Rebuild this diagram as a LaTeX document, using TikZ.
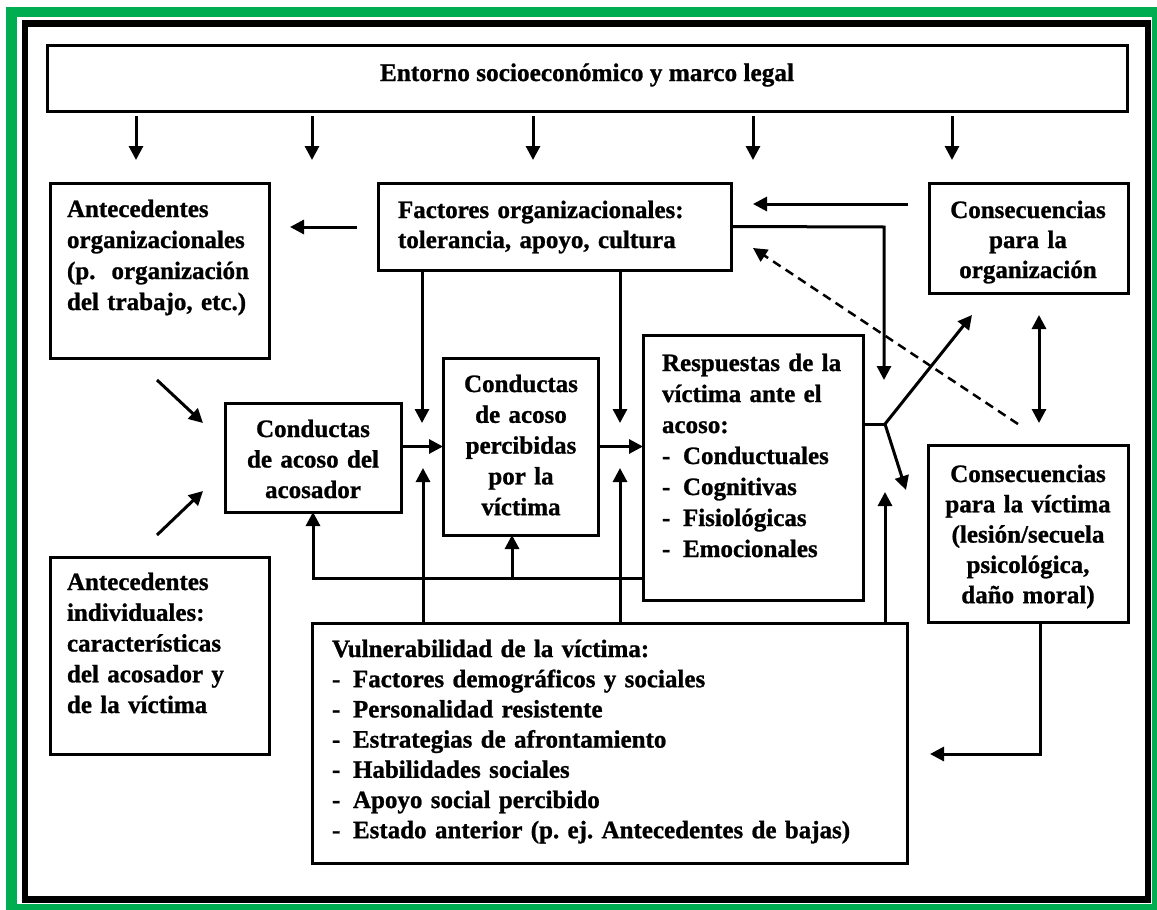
\documentclass[tikz,border=0pt]{standalone}
\usepackage{fontspec}
\setmainfont{Liberation Serif}[BoldFeatures={FakeBold=1}]
\usetikzlibrary{arrows.meta}
\definecolor{frameg}{RGB}{0,173,80}
\newcommand\tf[1]{\frenchspacing\bfseries\fontsize{25}{#1}\selectfont}
\newcommand\itm{\makebox[21pt][l]{-}}
\begin{document}
\begin{tikzpicture}[x=1pt,y=-1pt,
  box/.style={draw, line width=3pt, inner sep=0pt, outer sep=0pt, anchor=north west},
  txt/.style={inner sep=0pt, outer sep=0pt, anchor=base west, align=left},
  ctxt/.style={inner sep=0pt, outer sep=0pt, anchor=base, align=center},
  ln/.style={line width=3pt},
  arr/.style={line width=3pt, -{Triangle[length=14pt,width=14pt]}},
  darr/.style={line width=3pt, {Triangle[length=14pt,width=14pt]}-{Triangle[length=14pt,width=14pt]}},
  dsh/.style={line width=2.5pt, dash pattern=on 9pt off 6pt, -{Triangle[length=14pt,width=14pt]}},
]
% background and frames
\useasboundingbox (0,0) rectangle (1157,910);
\fill[white] (0,0) rectangle (1157,910);
\fill[frameg] (6,7) rectangle (1157,910);
\fill[white] (17,17) rectangle (1152,904);
\draw[line width=6.5pt] (25,23.5) rectangle (1148,899.5);

% boxes
\node[box, minimum width=1080pt, minimum height=66pt] (top) at (47,45) {};
\node[box, minimum width=219pt, minimum height=175pt] (ao) at (50,183) {};
\node[box, minimum width=353pt, minimum height=87pt] (fo) at (378,183) {};
\node[box, minimum width=199pt, minimum height=110pt] (co) at (929,183) {};
\node[box, minimum width=176pt, minimum height=109pt] (ca) at (225,403) {};
\node[box, minimum width=155pt, minimum height=177pt] (cp) at (443,358) {};
\node[box, minimum width=220pt, minimum height=265pt] (re) at (643,335) {};
\node[box, minimum width=200pt, minimum height=177pt] (cv) at (928,445) {};
\node[box, minimum width=219pt, minimum height=197pt] (ai) at (50,557) {};
\node[box, minimum width=595pt, minimum height=240pt] (vu) at (312,623) {};

% texts
\node[ctxt, font=\tf{30}] (ttop) at (587,81) {\fontsize{25.3}{30}\selectfont Entorno socioecon\'omico y marco legal};
\node[txt, text width=182pt, font=\tf{31}] (tao) at (67,217)
  {Antecedentes\\organizacionales\\(p.\hfill organizaci\'on\\del trabajo, etc.)};
\node[txt, text width=320pt, font=\tf{30}] (tfo) at (398,218)
  {Factores organizacionales:\\tolerancia, apoyo, cultura};
\node[ctxt, text width=190pt, font=\tf{30}] (tco) at (1028,218)
  {Consecuencias\\para la\\organizaci\'on};
\node[ctxt, text width=170pt, font=\tf{30.5}] (tca) at (313,437)
  {Conductas\\de acoso del\\acosador};
\node[ctxt, text width=150pt, font=\tf{30.8}] (tcp) at (521,392)
  {Conductas\\de acoso\\percibidas\\por la\\v\'ictima};
\node[txt, text width=200pt, font=\tf{31}] (tre) at (662,371)
  {Respuestas de la\\v\'ictima ante el\\acoso:\\\itm Conductuales\\\itm Cognitivas\\\itm Fisiol\'ogicas\\\itm Emocionales};
\node[ctxt, text width=195pt, font=\tf{30.3}] (tcv) at (1028,482)
  {Consecuencias\\para la v\'ictima\\(lesi\'on/secuela\\psicol\'ogica,\\da\~no moral)};
\node[txt, text width=200pt, font=\tf{30.75}] (tai) at (67,590)
  {Antecedentes\\individuales:\\caracter\'isticas\\del acosador y\\de la v\'ictima};
\node[txt, text width=570pt, font=\tf{30.2}] (tvu) at (332,657)
  {Vulnerabilidad de la v\'ictima:\\\itm Factores demogr\'aficos y sociales\\\itm Personalidad resistente\\\itm Estrategias de afrontamiento\\\itm Habilidades sociales\\\itm Apoyo social percibido\\\itm Estado anterior (p. ej. Antecedentes de bajas)};

% free-end coordinates
\foreach \i/\x in {1/136,2/312,3/533,4/753,5/952}{
  \coordinate (ts\i) at (\x,116);
  \coordinate (te\i) at (\x,160);
}
\coordinate (foL) at (357,227);
\coordinate (aoR) at (290,227);
\coordinate (coL) at (908,204);
\coordinate (foR) at (753,204);
\coordinate (dS) at (1018,424);
\coordinate (dE) at (753,248);
\coordinate (k1) at (884,227);
\coordinate (k1e) at (884,380);
\coordinate (f1e) at (422,423);
\coordinate (f2e) at (620,423);
\coordinate (fork) at (885,424);
\coordinate (forkA) at (972,315);
\coordinate (forkB) at (906,490);
\coordinate (dbA) at (1039,315);
\coordinate (dbB) at (1039,423);
\coordinate (cvk) at (1040,754);
\coordinate (cve) at (930,754);
\coordinate (v1e) at (423,468);
\coordinate (v2e) at (620,468);
\coordinate (v3e) at (885,492);
\coordinate (fbR) at (643,578);
\coordinate (fbL) at (313,578);
\coordinate (fbM) at (512,578);
\coordinate (g1s) at (157,380);
\coordinate (g1e) at (203,423);
\coordinate (g2s) at (157,535);
\coordinate (g2e) at (203,491);

% connectors
\foreach \i in {1,...,5}{ \draw[arr] (ts\i) -- (te\i); }
\draw[arr] (foL) -- (aoR);
\draw[arr] (coL) -- (foR);
\draw[dsh] (dS) -- (dE);
\draw[arr] (fo.east) -- (k1) -- (k1e);
\draw[arr] (fo.south -| f1e) -- (f1e);
\draw[arr] (fo.south -| f2e) -- (f2e);
\draw[arr] (ca.east |- cp.west) -- (cp.west);
\draw[arr] (cp.east) -- (re.west |- cp.east);
\draw[ln] (re.east |- fork) -- (fork);
\draw[arr] (fork) -- (forkA);
\draw[arr] (fork) -- (forkB);
\draw[darr] (dbA) -- (dbB);
\draw[arr] (cv.south -| cvk) -- (cvk) -- (cve);
\draw[arr] (vu.north -| v1e) -- (v1e);
\draw[arr] (vu.north -| v2e) -- (v2e);
\draw[arr] (vu.north -| v3e) -- (v3e);
\draw[arr] (fbR) -- (fbL) -- (ca.south -| fbL);
\draw[arr] (fbM) -- (cp.south -| fbM);
\draw[arr] (g1s) -- (g1e);
\draw[arr] (g2s) -- (g2e);
\end{tikzpicture}
\end{document}
